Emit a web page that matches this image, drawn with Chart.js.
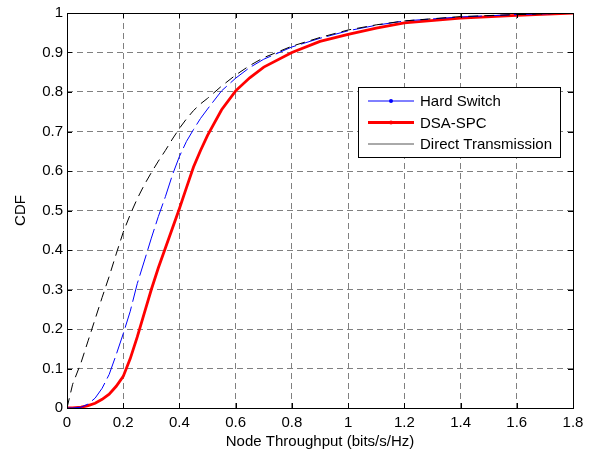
<!DOCTYPE html>
<html>
<head>
<meta charset="utf-8">
<script src="https://cdn.jsdelivr.net/npm/chart.js@4"></script>
<style>
  html, body { margin: 0; padding: 0; background: #fff; }
  canvas { display: block; }
</style>
</head>
<body>
<canvas id="cdf" width="594" height="454"></canvas>
<script>
// throughput values (bits/s/Hz) where the curves were read
const throughput = [0, 0.02, 0.05, 0.075, 0.1, 0.125, 0.15, 0.175, 0.2, 0.225, 0.25, 0.275, 0.3, 0.325, 0.35, 0.375, 0.4, 0.425, 0.45, 0.475, 0.5, 0.55, 0.6, 0.65, 0.7, 0.8, 0.9, 1.0, 1.1, 1.2, 1.4, 1.6, 1.8];

const hardSwitch = [0, 0, 0.002, 0.01, 0.025, 0.05, 0.085, 0.135, 0.188, 0.245, 0.315, 0.372, 0.43, 0.485, 0.535, 0.59, 0.637, 0.675, 0.705, 0.733, 0.757, 0.803, 0.835, 0.862, 0.883, 0.914, 0.936, 0.955, 0.969, 0.98, 0.99, 0.996, 1.0];
const dsaSpc = [0, 0, 0.002, 0.006, 0.012, 0.022, 0.035, 0.055, 0.08, 0.125, 0.18, 0.24, 0.30, 0.355, 0.405, 0.455, 0.505, 0.558, 0.61, 0.652, 0.69, 0.755, 0.803, 0.836, 0.863, 0.90, 0.928, 0.946, 0.962, 0.975, 0.987, 0.994, 1.0];
const directTx = [0, 0.06, 0.115, 0.17, 0.225, 0.28, 0.333, 0.39, 0.445, 0.49, 0.53, 0.565, 0.596, 0.625, 0.652, 0.681, 0.708, 0.732, 0.753, 0.77, 0.784, 0.815, 0.843, 0.867, 0.887, 0.916, 0.938, 0.957, 0.97, 0.98, 0.991, 0.996, 1.0];

const seriesNames = ["Hard Switch", "DSA-SPC", "Direct Transmission"];

const FONT = "'Liberation Sans', Arial, sans-serif";
const FSIZE = 15;

function toPoints(ys) {
  return throughput.map((x, i) => ({ x: x, y: ys[i] }));
}

// matlab prints 0, 0.2 ... 1 (no trailing .0)
function tickText(v) {
  return String(Number(v.toFixed(1)));
}

// box round the plot + inward ticks on all four sides
const frameTicks = {
  id: "frameTicks",
  afterDatasetsDraw(chart) {
    const { ctx, chartArea: a, scales } = chart;
    const len = 5;
    ctx.save();
    ctx.strokeStyle = "#000";
    ctx.lineWidth = 1;
    ctx.beginPath();
    scales.x.ticks.forEach(t => {
      const px = Math.round(scales.x.getPixelForValue(t.value)) + 0.5;
      ctx.moveTo(px, a.bottom); ctx.lineTo(px, a.bottom - len);
      ctx.moveTo(px, a.top); ctx.lineTo(px, a.top + len);
    });
    scales.y.ticks.forEach(t => {
      const py = Math.round(scales.y.getPixelForValue(t.value)) + 0.5;
      ctx.moveTo(a.left, py); ctx.lineTo(a.left + len, py);
      ctx.moveTo(a.right, py); ctx.lineTo(a.right - len, py);
    });
    ctx.stroke();
    ctx.strokeRect(Math.round(a.left) + 0.5, Math.round(a.top) + 0.5,
      Math.round(a.right - a.left), Math.round(a.bottom - a.top));
    ctx.restore();
  }
};

// legend box inside the plot, upper right
const boxLegend = {
  id: "boxLegend",
  afterDraw(chart) {
    const ctx = chart.ctx;
    const bx = 358, by = 87, bw = 202, bh = 70;
    ctx.save();
    ctx.fillStyle = "#fff";
    ctx.fillRect(bx, by, bw, bh);
    ctx.strokeStyle = "#000";
    ctx.lineWidth = 1;
    ctx.strokeRect(bx + 0.5, by + 0.5, bw, bh);
    ctx.font = FSIZE + "px " + FONT;
    ctx.textBaseline = "middle";
    chart.data.datasets.forEach((ds, i) => {
      const y = by + 14 + i * 21.5;
      ctx.strokeStyle = ds.legendColor || ds.borderColor;
      ctx.lineWidth = ds.borderWidth;
      ctx.setLineDash([]);
      ctx.beginPath();
      ctx.moveTo(368, y);
      ctx.lineTo(414, y);
      ctx.stroke();
      if (ds.legendMarker) {
        ctx.fillStyle = ds.borderColor;
        ctx.beginPath();
        ctx.arc(391, y, 2, 0, Math.PI * 2);
        ctx.fill();
      }
      ctx.fillStyle = "#000";
      ctx.fillText(ds.label, 420, y + 1);
    });
    ctx.restore();
  }
};

new Chart(document.getElementById("cdf"), {
  type: "line",
  data: {
    datasets: [
      {
        label: seriesNames[0],
        data: toPoints(hardSwitch),
        borderColor: "#0000ff",
        borderWidth: 1,
        borderDash: [22, 5],
        legendMarker: true,
        order: 2
      },
      {
        label: seriesNames[1],
        data: toPoints(dsaSpc),
        borderColor: "#ff0000",
        borderWidth: 2.8,
        legendMarker: true,
        order: 3
      },
      {
        label: seriesNames[2],
        data: toPoints(directTx),
        borderColor: "#000000",
        legendColor: "#555555",
        borderWidth: 1,
        borderDash: [10, 6],
        legendMarker: false,
        order: 1
      }
    ]
  },
  options: {
    responsive: false,
    animation: false,
    devicePixelRatio: 1,
    layout: { padding: { top: 10, right: 21, left: 0, bottom: 0 } },
    elements: {
      point: { radius: 0 },
      line: { tension: 0 }
    },
    plugins: {
      legend: { display: false },
      tooltip: { enabled: false }
    },
    scales: {
      x: {
        type: "linear",
        min: 0,
        max: 1.8,
        afterFit: (s) => { s.height = 46; },
        ticks: {
          stepSize: 0.2,
          color: "#000",
          padding: 6,
          maxRotation: 0,
          font: { family: FONT, size: FSIZE },
          callback: (v) => tickText(v)
        },
        grid: { color: "#808080", drawTicks: false, lineWidth: 1 },
        border: { display: false, dash: [6, 4] },
        title: {
          display: true,
          text: "Node Throughput (bits/s/Hz)",
          color: "#000",
          font: { family: FONT, size: FSIZE },
          padding: { top: 0, bottom: 3 }
        }
      },
      y: {
        min: 0,
        max: 1,
        afterFit: (s) => { s.width = 67; },
        ticks: {
          stepSize: 0.1,
          color: "#000",
          padding: 4,
          font: { family: FONT, size: FSIZE },
          callback: (v) => tickText(v)
        },
        grid: { color: "#808080", drawTicks: false, lineWidth: 1 },
        border: { display: false, dash: [6, 4] },
        title: {
          display: true,
          text: "CDF",
          color: "#000",
          font: { family: FONT, size: FSIZE },
          padding: { top: 12, bottom: 0 }
        }
      }
    }
  },
  plugins: [frameTicks, boxLegend]
});
</script>
</body>
</html>
